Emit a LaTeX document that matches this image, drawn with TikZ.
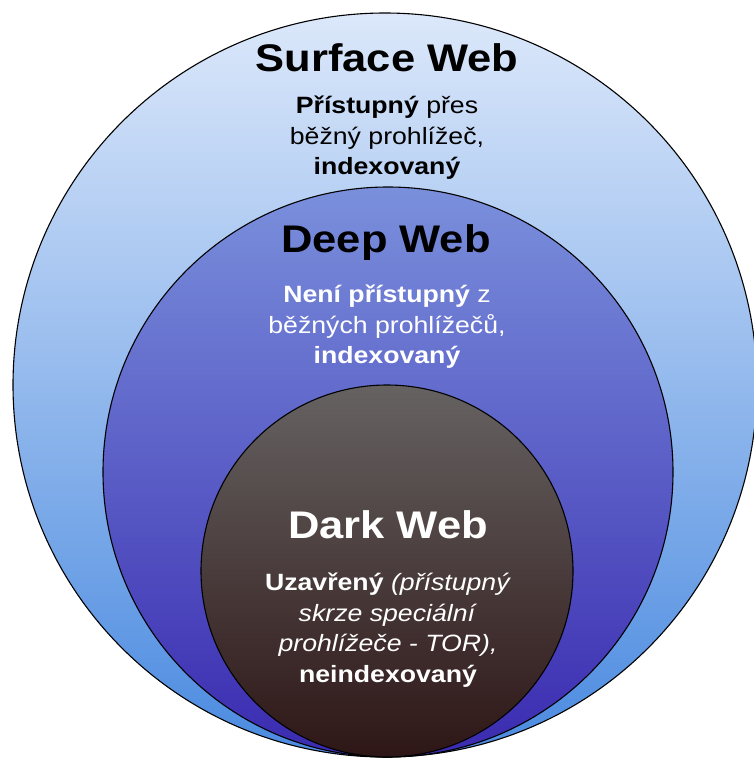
\documentclass[tikz,border=0pt]{standalone}
\usepackage{fontspec}
\setmainfont{Liberation Sans}
\newfontfamily\webfont[FakeStretch=1.13]{Liberation Sans}

\definecolor{surface top}{HTML}{DCE8FA}
\definecolor{surface bottom}{HTML}{4A8AE0}
\definecolor{deep top}{HTML}{7A90DC}
\definecolor{deep bottom}{HTML}{3A2AB0}
\definecolor{dark top}{HTML}{666262}
\definecolor{dark bottom}{HTML}{2E1616}

\tikzset{%
  every layer/.style={
    circle,
    draw=black,
    line width=1.1pt,
    inner sep=0pt
  },
  layer title/.style={
    font=\webfont\fontsize{38.5}{44}\selectfont\bfseries
  },
  layer text/.style={
    align=center,
    font=\webfont\fontsize{23.6}{30.5}\selectfont
  },
}

\begin{document}
\begin{tikzpicture}[x=1pt, y=-1pt]
\useasboundingbox (0,0) rectangle (754,758);

\begin{scope}
\clip (0,0) rectangle (754,758);
\foreach \m/\cx/\cy/\r in {surface/385/385/372, deep/388/472/285, dark/387/571/186}
  \node [every layer/.try, minimum size={2*\r pt},
         top color=\m\space top, bottom color=\m\space bottom] (\m) at (\cx,\cy) {};
\end{scope}

\node [layer title] (surface-title) at (387,58) {Surface Web};
\node [layer text] (surface-text) at (387,138)
  {\textbf{Přístupný} přes\\běžný prohlížeč,\\\textbf{indexovaný}};

\node [layer title] (deep-title) at (386,243) {Deep Web};
\node [layer text, text=white] (deep-text) at (387,327)
  {\textbf{Není přístupný} z\\běžných prohlížečů,\\\textbf{indexovaný}};

\node [layer title, text=white] (dark-title) at (388,525) {Dark Web};
\node [layer text, text=white] (dark-text) at (388,630)
  {\textbf{Uzavřený} \textit{(přístupný}\\\textit{skrze speciální}\\\textit{prohlížeče - TOR),}\\\textbf{neindexovaný}};

\end{tikzpicture}
\end{document}
